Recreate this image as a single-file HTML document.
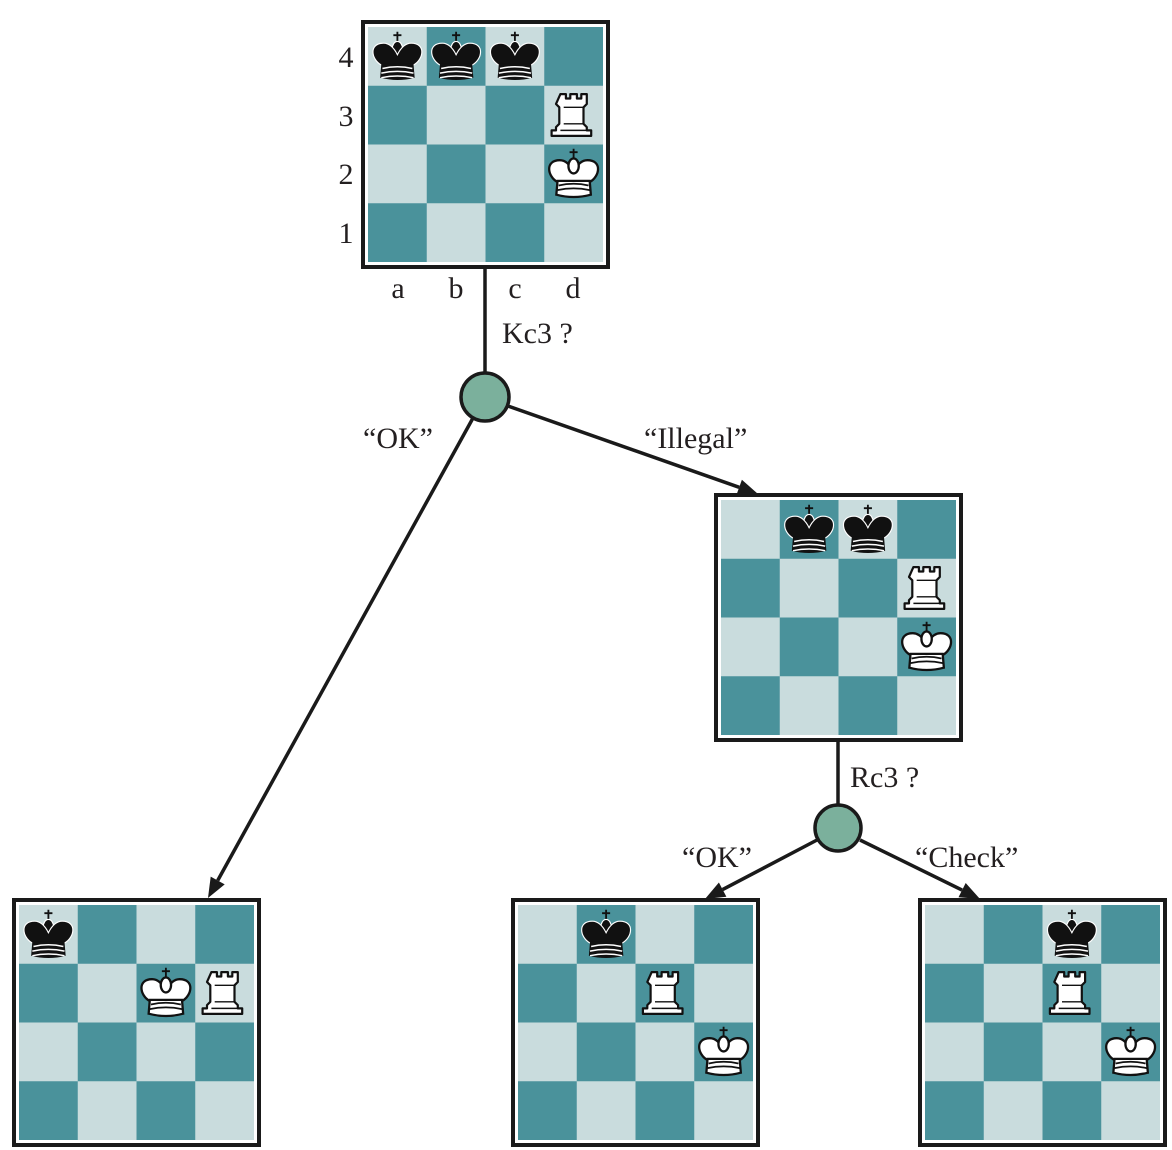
<!DOCTYPE html>
<html><head><meta charset="utf-8"><style>
html,body{margin:0;padding:0;background:#fff;}
svg{display:block;}
.t{font-family:"Liberation Serif",serif;font-size:30px;fill:#231f20;}
</style></head><body>
<svg width="1172" height="1150" viewBox="0 0 1172 1150" xmlns="http://www.w3.org/2000/svg">
<defs>
<g id="board">
<rect x="0" y="0" width="245" height="245" fill="#fff" stroke="#1a1a1a" stroke-width="4"/>
<rect x="5" y="5" width="235" height="235" fill="#c9dcdd"/>
<g fill="#4a929b">
<rect x="63.75" y="5" width="58.75" height="58.75"/>
<rect x="181.25" y="5" width="58.75" height="58.75"/>
<rect x="5" y="63.75" width="58.75" height="58.75"/>
<rect x="122.5" y="63.75" width="58.75" height="58.75"/>
<rect x="63.75" y="122.5" width="58.75" height="58.75"/>
<rect x="181.25" y="122.5" width="58.75" height="58.75"/>
<rect x="5" y="181.25" width="58.75" height="58.75"/>
<rect x="122.5" y="181.25" width="58.75" height="58.75"/>
</g>
</g>
<g id="bk0">
<path d="M0,-22 V-13 M-3.5,-19 H3.5" stroke="#111" stroke-width="1.6"/>
<ellipse cx="0" cy="-7" rx="4.5" ry="6.5" fill="#111" stroke="#fff" stroke-width="1"/>
<path d="M-14,7 C-23,2 -25,-12 -12,-12 C-6,-12 -2,-6 0,-2 C2,-6 6,-12 12,-12 C25,-12 23,2 14,7 Z" fill="#111" stroke="#fff" stroke-width="1"/>
<path d="M-14,6 L14,6 L15,18 Q0,22 -15,18 Z" fill="#111"/>
<path d="M-13,10 Q0,7 13,10 M-14,14 Q0,11 14,14 M-14,18 Q0,15 14,18" stroke="#fff" stroke-width="1.3" fill="none"/>
</g>
<g id="wk0">
<path d="M0,-22 V-13 M-3.5,-19 H3.5" stroke="#111" stroke-width="1.6"/>
<path d="M-14,7 C-23,2 -25,-12 -12,-12 C-6,-12 -2,-6 0,-2 C2,-6 6,-12 12,-12 C25,-12 23,2 14,7 Z" fill="#fff" stroke="#111" stroke-width="2"/>
<ellipse cx="0" cy="-7" rx="4.5" ry="6.5" fill="#fff" stroke="#111" stroke-width="2"/>
<path d="M-14,6 L14,6 L15,18 Q0,22 -15,18 Z" fill="#fff" stroke="#111" stroke-width="2"/>
<path d="M-13,10 Q0,7 13,10 M-14,14 Q0,11 14,14" stroke="#111" stroke-width="1.5" fill="none"/>
</g>
<g id="wr0">
<path d="M-12,-19 h5 v4 h4 v-4 h6 v4 h4 v-4 h5 v9 l-3,3 v15 l3,3 v3 h4 v5 h-36 v-5 h4 v-3 l3,-3 v-15 l-3,-3 z" fill="#fff" stroke="#111" stroke-width="2" stroke-linejoin="round"/>
<path d="M-9,-7 H9 M-9,8 H9 M-12,14 H12" stroke="#111" stroke-width="1.3"/>
</g>
<g id="bk"><use href="#bk0" transform="scale(1.15)"/></g>
<g id="wk"><use href="#wk0" transform="scale(1.15)"/></g>
<g id="wr"><use href="#wr0" transform="scale(1.1)"/></g>
</defs>

<g stroke="#1a1a1a" stroke-width="3.5" fill="none">
<line x1="485" y1="268" x2="485" y2="374"/>
<line x1="473" y1="418" x2="217.7" y2="880.5"/>
<line x1="508" y1="406" x2="739.2" y2="487.3"/>
<line x1="838" y1="741" x2="838" y2="805"/>
<line x1="817" y1="840" x2="722.6" y2="889.6"/>
<line x1="860" y1="840" x2="962.1" y2="890.1"/>
</g>
<g fill="#1a1a1a">
<polygon points="208,898 224.7,884.4 210.7,876.6"/>
<polygon points="758,494 736.5,494.8 741.9,479.8"/>
<polygon points="705,899 726.4,896.7 718.9,882.5"/>
<polygon points="980,899 958.5,897.3 965.7,883"/>
</g>
<circle cx="485" cy="397" r="24" fill="#7bb09c" stroke="#1a1a1a" stroke-width="3.5"/>
<circle cx="838" cy="828" r="23" fill="#7bb09c" stroke="#1a1a1a" stroke-width="3.5"/>

<g transform="translate(363,22)"><use href="#board"/>
<use href="#bk" x="34.4" y="35"/>
<use href="#bk" x="93.1" y="35"/>
<use href="#bk" x="151.9" y="35"/>
<use href="#wr" x="210.6" y="93"/>
<use href="#wk" x="210.6" y="152"/>
</g>
<g class="t" text-anchor="middle">
<text x="346" y="67">4</text><text x="346" y="126">3</text><text x="346" y="184">2</text><text x="346" y="243">1</text>
<text x="398" y="298">a</text><text x="456" y="298">b</text><text x="515" y="298">c</text><text x="573" y="298">d</text>
</g>

<g transform="translate(716,495)"><use href="#board"/>
<use href="#bk" x="93.1" y="35"/>
<use href="#bk" x="151.9" y="35"/>
<use href="#wr" x="210.6" y="93"/>
<use href="#wk" x="210.6" y="152"/>
</g>

<g transform="translate(14,900)"><use href="#board"/>
<use href="#bk" x="34.4" y="35"/>
<use href="#wk" x="151.9" y="93"/>
<use href="#wr" x="210.6" y="93"/>
</g>

<g transform="translate(513,900)"><use href="#board"/>
<use href="#bk" x="93.1" y="35"/>
<use href="#wr" x="151.9" y="93"/>
<use href="#wk" x="210.6" y="152"/>
</g>

<g transform="translate(920,900)"><use href="#board"/>
<use href="#bk" x="151.9" y="35"/>
<use href="#wr" x="151.9" y="93"/>
<use href="#wk" x="210.6" y="152"/>
</g>

<text class="t" x="502" y="343">Kc3 ?</text>
<text class="t" x="363" y="448">“OK”</text>
<text class="t" x="644" y="448">“Illegal”</text>
<text class="t" x="850" y="787">Rc3 ?</text>
<text class="t" x="682" y="867">“OK”</text>
<text class="t" x="915" y="867">“Check”</text>
</svg>
</body></html>
